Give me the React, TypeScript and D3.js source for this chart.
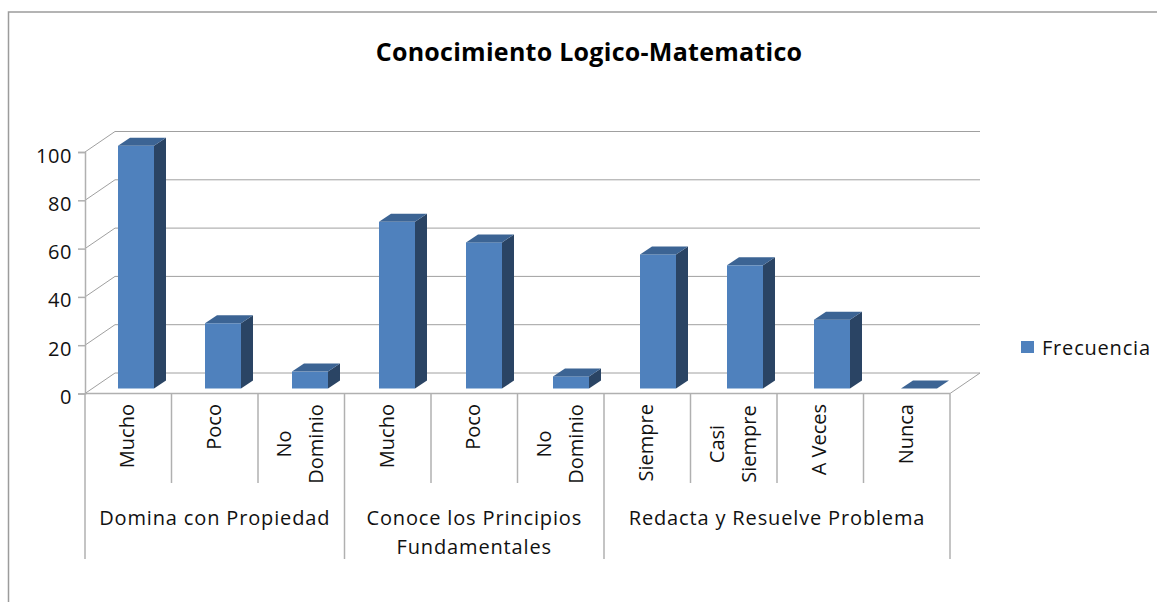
import React, { useEffect, useRef } from "react";
import * as d3 from "d3";

const chartTitle = "Conocimiento Logico-Matematico";
const seriesName = "Frecuencia";
const categories = [
  ["Mucho"], ["Poco"], ["No", "Dominio"],
  ["Mucho"], ["Poco"], ["No", "Dominio"],
  ["Siempre"], ["Casi", "Siempre"], ["A Veces"], ["Nunca"],
];
const values = [100.5, 27, 7, 69, 60.5, 5, 55.5, 51, 28.5, 0];
const groupLabels = [
  ["Domina con Propiedad"],
  ["Conoce los Principios", "Fundamentales"],
  ["Redacta y Resuelve Problema"],
];
const groupSizes = [3, 3, 4];
const yTicks = [0, 20, 40, 60, 80, 100];

const width = 1157;
const height = 602;
const font = "'Open Sans', sans-serif";
const gridColor = "#a0a0a0";
const axisColor = "#b0b0b0";

export default function App() {
  const svgRef = useRef<SVGSVGElement>(null);

  useEffect(() => {
    const svg = d3.select(svgRef.current);
    svg.selectAll("*").remove();

    const x = d3.scaleBand<number>().domain(d3.range(values.length)).range([85, 950]);
    // the bars sit on the floor plane, which runs a bit wider than the front edge
    const floorX = d3.scaleBand<number>().domain(d3.range(values.length)).range([92.5, 962.5]);
    const y = d3.scaleLinear().domain([0, 100]).range([393.5, 152]);
    const band = x.bandwidth();
    const wallDx = 30;
    const wallDy = 20.5;
    const barW = 36;
    const barDx = 12;
    const barDy = 8;
    const baseDy = 5;

    // chart frame
    svg.append("path").attr("d", `M8.5,${height}V12H${width}`)
      .attr("fill", "none").attr("stroke", "#9c9c9c").attr("stroke-width", 1.5);

    // title
    svg.append("text").attr("x", 589).attr("y", 61).attr("text-anchor", "middle")
      .style("font", `bold 25px ${font}`).style("letter-spacing", "0.27px")
      .attr("fill", "#000").text(chartTitle);

    // back wall gridlines and side wall
    const grid = svg.append("g").attr("fill", "none").attr("stroke", gridColor);
    yTicks.forEach(t => {
      grid.append("line")
        .attr("x1", x.range()[0] + wallDx).attr("x2", x.range()[1] + wallDx)
        .attr("y1", y(t) - wallDy).attr("y2", y(t) - wallDy);
      grid.append("line")
        .attr("x1", x.range()[0]).attr("x2", x.range()[0] + wallDx)
        .attr("y1", y(t)).attr("y2", y(t) - wallDy);
    });
    grid.append("line")
      .attr("x1", x.range()[1]).attr("x2", x.range()[1] + wallDx)
      .attr("y1", y(0)).attr("y2", y(0) - wallDy);

    // y axis
    const yAxis = svg.append("g").attr("transform", `translate(${x.range()[0]},0)`)
      .call(d3.axisLeft(y).tickValues(yTicks).tickSize(7).tickPadding(6));
    yAxis.selectAll("path,line").attr("stroke", axisColor).attr("stroke-width", 1.5);
    yAxis.selectAll("text").attr("fill", "#111").attr("dy", "0.5em")
      .style("font", `20px ${font}`).style("letter-spacing", "0.6px");

    // category dividers
    const axisLines = svg.append("g").attr("stroke", axisColor).attr("stroke-width", 1.5);
    axisLines.append("line").attr("x1", 85).attr("x2", 950).attr("y1", y(0)).attr("y2", y(0));
    let start = 0;
    const groupStarts = groupSizes.map(n => { const s = start; start += n; return s; });
    d3.range(values.length + 1).forEach(i => {
      const isGroupEdge = groupStarts.includes(i) || i === values.length;
      const xPos = x.range()[0] + i * band;
      axisLines.append("line").attr("x1", xPos).attr("x2", xPos)
        .attr("y1", y(0)).attr("y2", isGroupEdge ? 559 : 483);
    });

    // bars
    const bars = svg.append("g");
    values.forEach((v, i) => {
      const x0 = (floorX(i) as number) + (floorX.bandwidth() - barW) / 2;
      const x1 = x0 + barW;
      const yb = y(0) - baseDy;
      const yt = y(v) - baseDy;
      if (v > 0) {
        bars.append("rect").attr("x", x0).attr("y", yt).attr("width", barW).attr("height", yb - yt)
          .attr("fill", "#4f81bd");
        bars.append("path").attr("fill", "#2a4464")
          .attr("d", `M${x1},${yt}L${x1 + barDx},${yt - barDy}V${yb - barDy}L${x1},${yb}Z`);
      }
      bars.append("path").attr("fill", "#3c6494")
        .attr("d", `M${x0},${yt}L${x0 + barDx},${yt - barDy}H${x1 + barDx}L${x1},${yt}Z`);
    });

    // rotated category labels
    const labelSize = 20;
    categories.forEach((lines, i) => {
      const cx = (x(i) as number) + band / 2;
      lines.forEach((line, j) => {
        const lx = cx + (j - (lines.length - 1) / 2) * 32 + 6;
        const ly = lines.length > 1 ? 444 : 404;
        svg.append("text")
          .attr("transform", `translate(${lx},${ly}) rotate(-90)`)
          .attr("text-anchor", lines.length > 1 ? "middle" : "end")
          .style("font", `${labelSize}px ${font}`).attr("fill", "#111")
          .text(line);
      });
    });

    // group labels
    groupLabels.forEach((lines, g) => {
      const a = x.range()[0] + groupStarts[g] * band;
      const b = a + groupSizes[g] * band;
      lines.forEach((line, j) => {
        svg.append("text").attr("x", (a + b) / 2).attr("y", 525 + j * 29)
          .attr("text-anchor", "middle")
          .style("font", `${labelSize}px ${font}`).style("letter-spacing", "0.85px").attr("fill", "#111")
          .text(line);
      });
    });

    // legend
    svg.append("rect").attr("x", 1021).attr("y", 341).attr("width", 13).attr("height", 12)
      .attr("fill", "#4f81bd");
    svg.append("text").attr("x", 1042).attr("y", 355)
      .style("font", `20px ${font}`).style("letter-spacing", "0.8px").attr("fill", "#111").text(seriesName);
  }, []);

  return (
    <svg ref={svgRef} width={width} height={height}
      style={{ position: "absolute", left: 0, top: 0, background: "#fff" }} />
  );
}
